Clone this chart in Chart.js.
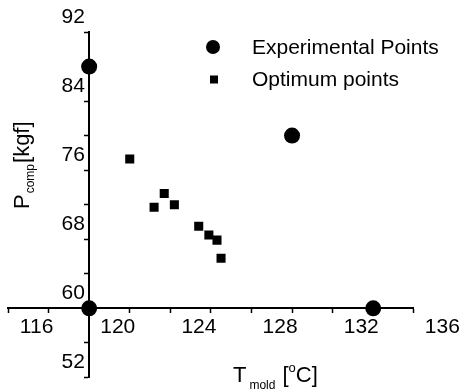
<!DOCTYPE html>
<html>
<head>
<meta charset="utf-8">
<script src="https://cdn.jsdelivr.net/npm/chart.js@4"></script>
<style>
  html, body { margin: 0; padding: 0; background: #fff; }
  canvas { display: block; }
</style>
</head>
<body>
<canvas id="moldChart" width="469" height="392"></canvas>
<script>
// Experimental points (mold temperature, compaction pressure)
const expTemp = [118, 118, 128, 132];
const expPress = [60, 88, 80, 60];

// Optimum points
const optTemp = [120.0, 121.2, 121.7, 122.2, 123.4, 123.9, 124.3, 124.5];
const optPress = [77.3, 71.7, 73.3, 72.0, 69.5, 68.5, 67.9, 65.8];

// Tick labels shown on the axes
const xTickLabels = [116, 120, 124, 128, 132, 136];
const yTickLabels = [52, 60, 68, 76, 84, 92];

const FONT = '"Liberation Sans", Arial, sans-serif';

function toPoints(xs, ys) {
    return xs.map((x, i) => ({ x: x, y: ys[i] }));
}

// Axis titles with subscripts and the legend drawn inside the plot
const extras = {
    id: 'extras',
    afterDraw(chart) {
        const ctx = chart.ctx;
        ctx.save();
        ctx.fillStyle = '#000';
        ctx.textBaseline = 'alphabetic';
        ctx.textAlign = 'left';

        // x title: T_mold [°C]
        let x = 233, y = 382;
        ctx.font = '22px ' + FONT;
        ctx.fillText('T', x, y);
        x += ctx.measureText('T').width + 3;
        ctx.font = '12px ' + FONT;
        ctx.fillText('mold', x, y + 7);
        x += ctx.measureText('mold').width + 7;
        ctx.font = '22px ' + FONT;
        ctx.fillText('[', x, y);
        x += ctx.measureText('[').width;
        ctx.font = '13px ' + FONT;
        ctx.fillText('o', x, y - 10);
        x += ctx.measureText('o').width;
        ctx.font = '22px ' + FONT;
        ctx.fillText('C]', x, y);

        // y title: P_comp [kgf]
        ctx.translate(29, 209);
        ctx.rotate(-Math.PI / 2);
        x = 0;
        ctx.font = '22px ' + FONT;
        ctx.fillText('P', x, 0);
        x += ctx.measureText('P').width + 1;
        ctx.font = '12px ' + FONT;
        ctx.fillText('comp', x, 5);
        x += ctx.measureText('comp').width + 1;
        ctx.font = '22px ' + FONT;
        ctx.fillText('[kgf]', x, 0);
        ctx.restore();

        // legend
        ctx.save();
        ctx.fillStyle = '#000';
        ctx.beginPath();
        ctx.arc(213, 47, 7, 0, Math.PI * 2);
        ctx.fill();
        ctx.fillRect(210, 75.5, 8, 8);
        ctx.font = '21px ' + FONT;
        ctx.textBaseline = 'middle';
        ctx.fillText(chart.data.datasets[0].label, 252, 48);
        ctx.fillText(chart.data.datasets[1].label, 252, 80);
        ctx.restore();
    }
};

const config = {
    type: 'scatter',
    data: {
        datasets: [{
            label: 'Experimental Points',
            data: toPoints(expTemp, expPress),
            pointStyle: 'circle',
            pointRadius: 8,
            backgroundColor: '#000',
            borderColor: '#000',
            borderWidth: 0
        }, {
            label: 'Optimum points',
            data: toPoints(optTemp, optPress),
            pointStyle: 'rect',
            pointRadius: 6.4,
            backgroundColor: '#000',
            borderColor: '#000',
            borderWidth: 0
        }]
    },
    options: {
        responsive: false,
        animation: false,
        layout: { padding: { left: 7, right: 49, top: 32, bottom: 13 } },
        plugins: {
            legend: { display: false },
            tooltip: { enabled: false }
        },
        scales: {
            x: {
                type: 'linear',
                min: 114,
                max: 134,
                position: { y: 60 },
                afterBuildTicks: (scale) => {
                    scale.ticks.push({ value: 136 });
                },
                ticks: {
                    stepSize: 2,
                    autoSkip: false,
                    maxRotation: 0,
                    labelOffset: -12,
                    padding: 2,
                    color: '#000',
                    font: { family: FONT, size: 21 },
                    callback: (v) => xTickLabels.includes(v) ? String(v) : ''
                },
                grid: {
                    drawOnChartArea: false,
                    tickLength: 4,
                    tickWidth: 1.5,
                    color: (c) => (c.tick && c.tick.value > 134) ? 'rgba(0,0,0,0)' : '#000'
                },
                border: { color: '#000', width: 2 }
            },
            y: {
                type: 'linear',
                min: 52,
                max: 92,
                position: { x: 118 },
                ticks: {
                    stepSize: 4,
                    autoSkip: false,
                    labelOffset: -15,
                    padding: 2,
                    color: '#000',
                    font: { family: FONT, size: 21 },
                    // thin space keeps the label just off the axis line
                    callback: (v) => yTickLabels.includes(v) ? String(v) + '\u2009' : ''
                },
                grid: {
                    drawOnChartArea: false,
                    tickLength: 4,
                    tickWidth: 1.5,
                    color: '#000'
                },
                border: { color: '#000', width: 2 }
            }
        }
    },
    plugins: [extras]
};

const moldChart = new Chart(document.getElementById('moldChart'), config);
</script>
</body>
</html>
